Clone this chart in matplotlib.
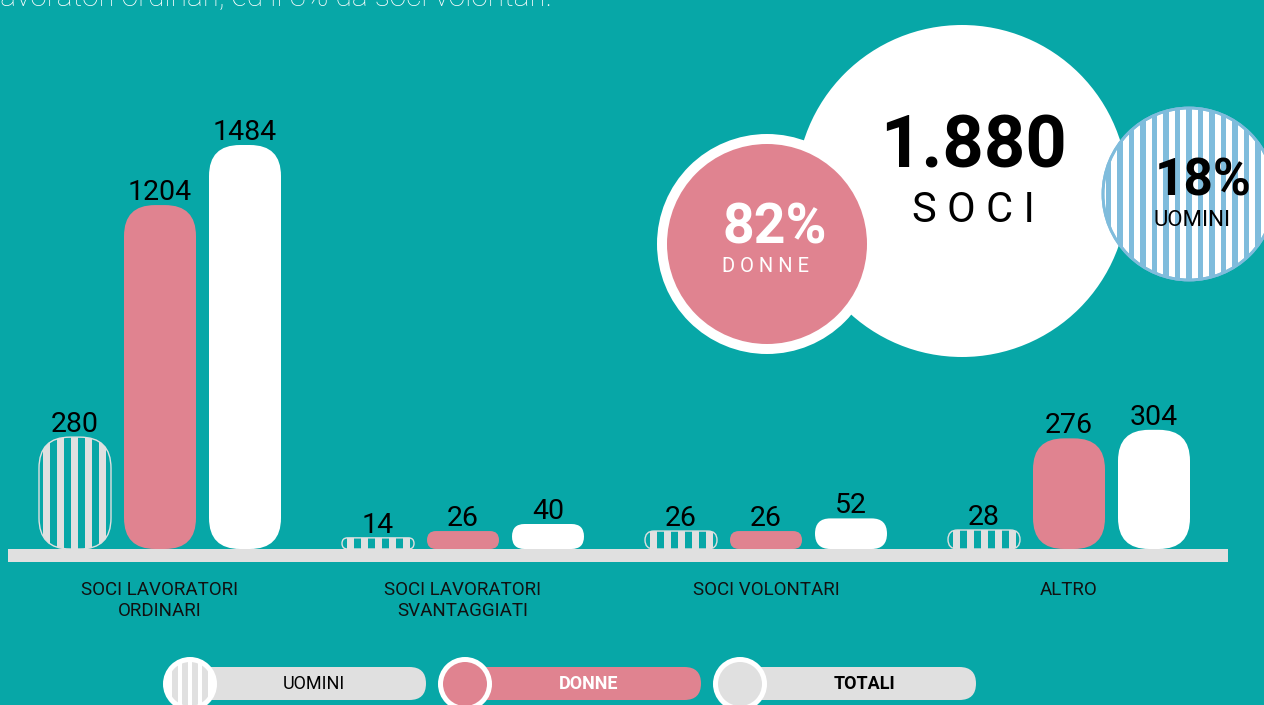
import numpy as np
import matplotlib
matplotlib.use("Agg")
import matplotlib.pyplot as plt
from matplotlib.patches import FancyBboxPatch, Circle, Rectangle

# ---- data -------------------------------------------------------------
categories = ["SOCI LAVORATORI\nORDINARI", "SOCI LAVORATORI\nSVANTAGGIATI",
              "SOCI VOLONTARI", "ALTRO"]
uomini = [280, 14, 26, 28]
donne = [1204, 26, 26, 276]
totali = [1484, 40, 52, 304]
series_names = ["UOMINI", "DONNE", "TOTALI"]

soci_totali = "1.880"
pct_donne = 82
pct_uomini = 18
intro_text = "lavoratori ordinari, ed il 3% da soci volontari."

# ---- style ------------------------------------------------------------
TEAL = "#07A7A7"
PINK = "#E08390"
GRAY = "#E0E0E0"
BLUE = "#7FBCDC"
FONT = "Roboto"

W, H = 1264, 705
fig = plt.figure(figsize=(W / 100, H / 100), dpi=100, facecolor=TEAL)

# overlay axes in pixel units (y grows downward)
ov = fig.add_axes([0, 0, 1, 1])
ov.set_xlim(0, W)
ov.set_ylim(H, 0)
ov.axis("off")
ov.patch.set_alpha(0)

# bar axes: group index on x, compressed power scale on y
BASE = 549
ax = fig.add_axes([0, (H - BASE) / H, 1, 404 / H])
ax.axis("off")
ax.patch.set_alpha(0)
POW = 0.77
ax.set_yscale("function", functions=(lambda v: np.abs(v) ** POW,
                                     lambda v: np.abs(v) ** (1 / POW)))
ax.set_ylim(0, max(totali))
GROUP_PX = 303
ax.set_xlim(-160 / GROUP_PX, (W - 160) / GROUP_PX)

inv = ov.transData.inverted()


def to_px(x, v):
    return inv.transform(ax.transData.transform((x, v)))


def rounded(x0, x1, ytop, ybot, face, edge="none", lw=0.0, z=3, rmax=31):
    w, h = x1 - x0, ybot - ytop
    r = min(rmax, h / 2, w / 2)
    p = FancyBboxPatch((x0 + r, ytop + r), w - 2 * r, h - 2 * r,
                       boxstyle=f"round,pad={r}", mutation_scale=1,
                       facecolor=face, edgecolor=edge, linewidth=lw, zorder=z)
    ov.add_patch(p)
    return p


def stripes(clip, cx, x0, x1, y0, y1, color, period, width, z):
    k0 = int(np.floor((x0 - cx) / period)) - 1
    k1 = int(np.ceil((x1 - cx) / period)) + 1
    for k in range(k0, k1 + 1):
        sx = cx + k * period - width / 2
        r = Rectangle((sx, y0), width, y1 - y0, facecolor=color,
                      edgecolor="none", zorder=z)
        ov.add_patch(r)
        r.set_clip_path(clip)


# baseline
ov.add_patch(Rectangle((8, BASE), 1220, 13, facecolor=GRAY,
                       edgecolor="none", zorder=2))

BAR_W = 72 / GROUP_PX
OFFSET = 85 / GROUP_PX
series = [uomini, donne, totali]
for i in range(len(categories)):
    for j, vals in enumerate(series):
        v = vals[i]
        xc = i + (j - 1) * OFFSET
        (xl, ytop) = to_px(xc - BAR_W / 2, v)
        (xr, ybot) = to_px(xc + BAR_W / 2, 0)
        cx = (xl + xr) / 2
        if j == 0:
            p = rounded(xl, xr, ytop, ybot, "none", edge=GRAY, lw=1.0, z=4)
            stripes(p, cx, xl, xr, ytop, ybot, GRAY, 14, 7, 3)
        elif j == 1:
            rounded(xl, xr, ytop, ybot, PINK)
        else:
            rounded(xl, xr, ytop, ybot, "white")
        ov.text(cx, ytop - 5, str(v), ha="center", va="baseline",
                fontsize=20.5, family=FONT, color="black", zorder=6)
    gx = to_px(i, 0)[0]
    ov.text(gx, 581, categories[i], ha="center", va="top", fontsize=13.5,
            family=FONT, color="#111111", linespacing=1.2, zorder=6)

# ---- bubbles ----------------------------------------------------------
ov.add_patch(Circle((962, 191), 166, facecolor="white", edgecolor="none", zorder=2))
ov.text(973, 148, soci_totali, ha="center", va="center", fontsize=52,
        fontweight="bold", family=FONT, color="black", zorder=6)
ov.text(973, 211, "S O C I", ha="center", va="center", fontsize=30,
        family=FONT, color="black", zorder=6)

ov.add_patch(Circle((767, 244), 110, facecolor="white", edgecolor="none", zorder=3))
ov.add_patch(Circle((767, 244), 100, facecolor=PINK, edgecolor="none", zorder=4))
ov.text(775, 228, f"{pct_donne}%", ha="center", va="center", fontsize=40,
        fontweight="bold", family=FONT, color="white", zorder=6)
ov.text(766, 267, "D O N N E", ha="center", va="center", fontsize=14.5,
        family=FONT, color="white", zorder=6)

bc = Circle((1189, 194), 86, facecolor="white", edgecolor=BLUE,
            linewidth=2.0, zorder=4)
ov.add_patch(bc)
stripes(bc, 1189, 1100, 1280, 105, 285, BLUE, 11.5, 5.5, 4.5)
ov.add_patch(Circle((1189, 194), 86, facecolor="none", edgecolor=BLUE,
                    linewidth=2.0, zorder=5))
ov.text(1203, 182, f"{pct_uomini}%", ha="center", va="center", fontsize=37,
        fontweight="bold", family=FONT, color="black", zorder=6)
ov.text(1192, 220, "UOMINI", ha="center", va="center", fontsize=16,
        family=FONT, color="black", zorder=6)

# ---- legend -----------------------------------------------------------
LEG_Y = 684
for k, name in enumerate(series_names):
    lx = 190 + k * 275
    pill_face = PINK if k == 1 else GRAY
    rounded(lx, lx + 236, LEG_Y - 17, LEG_Y + 16, pill_face, z=3, rmax=17)
    if k == 0:
        c = Circle((lx, LEG_Y), 24.5, facecolor=GRAY, edgecolor="none", zorder=4)
        ov.add_patch(c)
        stripes(c, lx, lx - 30, lx + 30, LEG_Y - 30, LEG_Y + 30, "white", 10, 4, 4.5)
    else:
        ov.add_patch(Circle((lx, LEG_Y), 24.5,
                            facecolor=PINK if k == 1 else GRAY,
                            edgecolor="none", zorder=4))
    ov.add_patch(Circle((lx, LEG_Y), 24.5, facecolor="none", edgecolor="white",
                        linewidth=3.6, zorder=5))
    ov.text(lx + 124, LEG_Y, name, ha="center", va="center", fontsize=13,
            family=FONT, fontweight="normal" if k == 0 else "bold",
            color="white" if k == 1 else "black", zorder=6)

# intro sentence running off the top edge
ov.text(-6, 6, intro_text, ha="left", va="baseline", fontsize=21.5,
        family=FONT, fontweight="light", color="white", zorder=6)

fig.savefig("out.png", dpi=100, facecolor=TEAL)
